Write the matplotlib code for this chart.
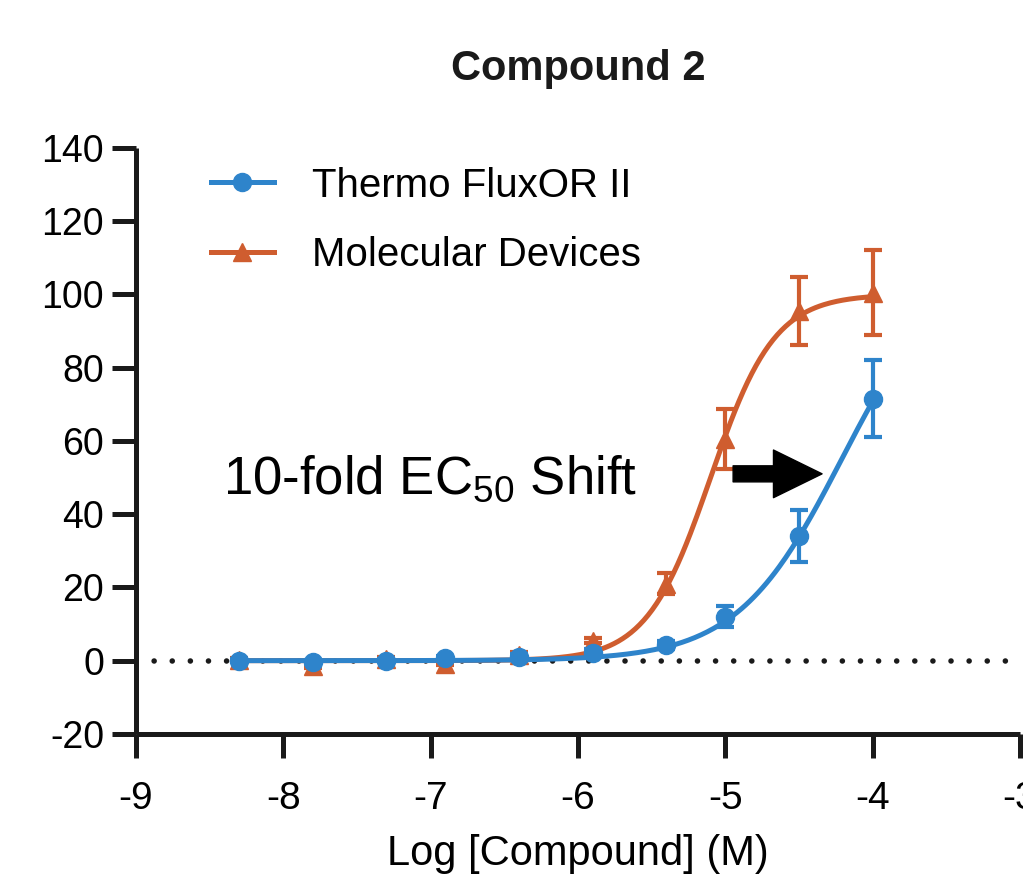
import numpy as np
import matplotlib
matplotlib.use("Agg")
import matplotlib.pyplot as plt
from matplotlib.lines import Line2D

# log molar concentration of each well
log_conc = [-8.3, -7.8, -7.3, -6.9, -6.4, -5.9, -5.4, -5.0, -4.5, -4.0]

# Thermo FluxOR II response (% of control) and error
thermo_mean = [0.0, -0.3, 0.0, 0.8, 1.0, 2.2, 4.3, 12.0, 34.0, 71.5]
thermo_err = [0.5, 0.5, 0.5, 0.5, 0.8, 1.0, 1.2, 2.8, 7.0, 10.5]

# Molecular Devices response and error
md_mean = [0.3, -1.5, 0.5, -0.8, 1.5, 5.5, 21.0, 60.5, 95.5, 100.5]
md_err = [0.5, 0.5, 0.5, 0.5, 1.0, 0.8, 2.8, 8.3, 9.2, 11.5]

# fitted curves: bottom, top, logEC50, hill slope
thermo_fit = [0.0, 110.0, -4.21, 1.22]
md_fit = [0.0, 100.0, -5.10, 2.0]

BLUE = "#2e84cb"
ORANGE = "#cf5d2f"
INK = "#1a1a1a"


def hill(x, p):
    bottom, top, ec, slope = p
    return bottom + (top - bottom) / (1 + 10 ** ((ec - x) * slope))


plt.rcParams["font.family"] = ["Liberation Sans", "DejaVu Sans"]
plt.rcParams["axes.unicode_minus"] = False

fig = plt.figure(figsize=(10.23, 8.8), dpi=100)
ax = fig.add_axes([0.133, 0.166, 0.864, 0.666])

# zero reference line
ax.axhline(0, color=INK, lw=4, ls=(0, (0.01, 3.25)), dash_capstyle="round", zorder=1)

xs = np.linspace(min(log_conc), max(log_conc), 300)
series = [
    (md_mean, md_err, md_fit, ORANGE, "^"),
    (thermo_mean, thermo_err, thermo_fit, BLUE, "o"),
]
z = 2
for mean, err, fit, col, mk in series:
    ax.errorbar(log_conc, mean, yerr=err, fmt="none", ecolor=col, elinewidth=3,
                capsize=6.5, capthick=3, zorder=z)
    ax.plot(xs, hill(xs, fit), color=col, lw=3.6, zorder=z + 0.1)
    ax.plot(log_conc, mean, ls="none", marker=mk, ms=13, color=col, zorder=z + 0.2)
    z += 1

ax.set_xlim(-9, -3)
ax.set_ylim(-20, 140)
ax.set_xticks(range(-9, -2))
ax.set_yticks(range(-20, 141, 20))
for s in ["top", "right"]:
    ax.spines[s].set_visible(False)
for s in ["left", "bottom"]:
    ax.spines[s].set_linewidth(3.6)
    ax.spines[s].set_color(INK)
    ax.spines[s].set_capstyle("butt")
ax.tick_params(direction="out", length=17, width=3.6, color=INK)
ax.tick_params(axis="y", pad=6, labelsize=27)
ax.tick_params(axis="x", pad=17, labelsize=28)
ax.set_xlabel("Log [Compound] (M)", fontsize=30, labelpad=12)
ax.set_title("Compound 2", fontsize=30, fontweight="bold", pad=49, color=INK)

handles = [
    Line2D([], [], color=BLUE, lw=3.6, marker="o", ms=13),
    Line2D([], [], color=ORANGE, lw=3.6, marker="^", ms=13),
]
ax.legend(handles, ["Thermo FluxOR II", "Molecular Devices"], loc="upper left",
          bbox_to_anchor=(0.085, 0.968), frameon=False, fontsize=29,
          handlelength=1.55, handletextpad=0.95, labelspacing=0.77,
          borderpad=0, borderaxespad=0)

ax.text(-8.41, 49.5, r"10-fold EC$_\mathregular{50}$ Shift",
        fontsize=38, va="center", ha="left")
ax.annotate("", xy=(-4.343, 51), xytext=(-4.947, 51),
            arrowprops=dict(arrowstyle="simple,head_length=1.0,head_width=0.98,tail_width=0.33",
                            color="black", mutation_scale=35, shrinkA=0, shrinkB=0))

fig.savefig("out.png", dpi=100)
